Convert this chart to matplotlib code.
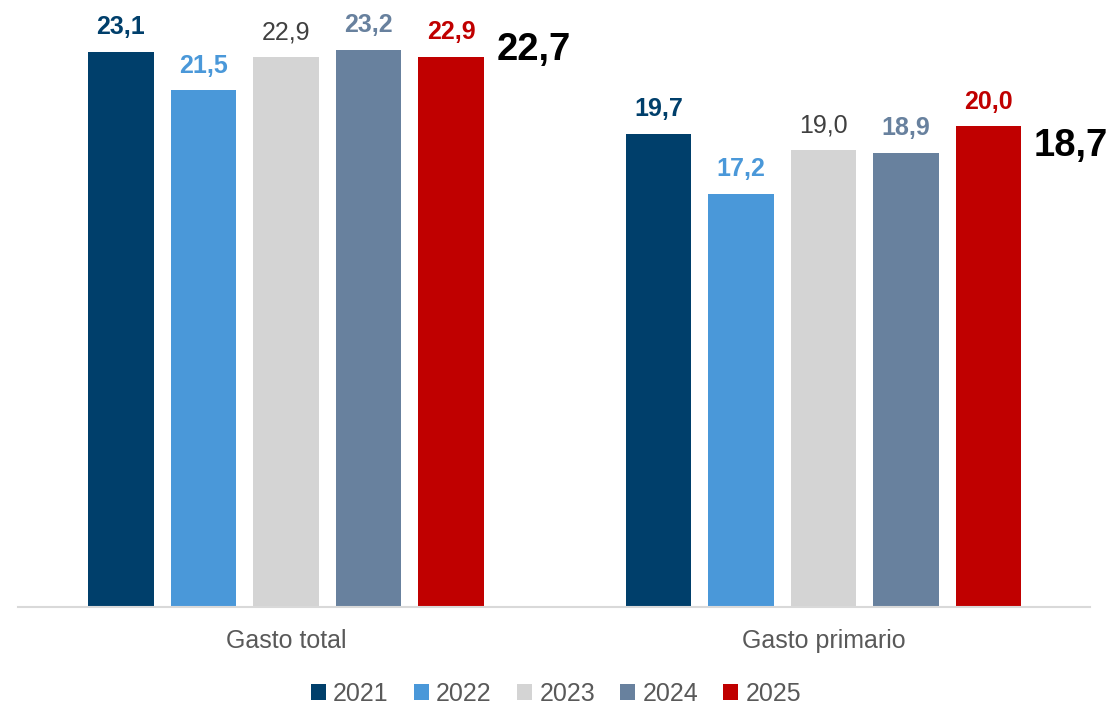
import matplotlib.pyplot as plt
import numpy as np

plt.rcParams['font.family'] = ['Liberation Sans', 'DejaVu Sans']

# datos
categorias = ['Gasto total', 'Gasto primario']
anios = ['2021', '2022', '2023', '2024', '2025']
valores = {
    '2021': [23.1, 19.7],
    '2022': [21.5, 17.2],
    '2023': [22.9, 19.0],
    '2024': [23.2, 18.9],
    '2025': [22.9, 20.0],
}
extra = [22.7, 18.7]  # cifra destacada a la derecha de cada grupo

colores = ['#003f6b', '#4a98d9', '#d4d4d4', '#68819e', '#c00000']
color_etiqueta = ['#003f6b', '#4a98d9', '#404040', '#68819e', '#c00000']
negrita = ['bold', 'bold', 'normal', 'bold', 'bold']

fig = plt.figure(figsize=(11.07, 7.04), dpi=100)
ax = fig.add_axes([18 / 1107, 97 / 704, (1090 - 18) / 1107, (607 - 20) / 704])

grupo = np.array([0, 6.515])
ancho = 0.79

for i, anio in enumerate(anios):
    x = grupo + i
    barras = ax.bar(x, valores[anio], width=ancho, color=colores[i], label=anio)
    for b, v in zip(barras, valores[anio]):
        ax.annotate(f'{v:.1f}'.replace('.', ','), (b.get_x() + b.get_width() / 2, v),
                    xytext=(0, 9), textcoords='offset points', ha='center', va='bottom',
                    fontsize=18, fontweight=negrita[i], color=color_etiqueta[i])

# serie invisible con la cifra grande
barras = ax.bar(grupo + 5, extra, width=ancho, color='none')
for b, v in zip(barras, extra):
    ax.annotate(f'{v:.1f}'.replace('.', ','), (b.get_x() + b.get_width() / 2, v),
                xytext=(0, 1), textcoords='offset points', ha='center', va='baseline',
                fontsize=27.5, fontweight='bold', color='black')

ax.set_xlim(-1.248, 11.745)
ax.set_ylim(0, 24.43)
ax.set_xticks(grupo + 2)
ax.set_xticklabels(categorias, fontsize=18, color='#595959')
ax.tick_params(axis='x', length=0, pad=16)
ax.set_yticks([])
for s in ['top', 'right', 'left']:
    ax.spines[s].set_visible(False)
ax.spines['bottom'].set_color('#d9d9d9')
ax.spines['bottom'].set_linewidth(1.5)

fig.legend(loc='center', bbox_to_anchor=(556 / 1107, 1 - 694 / 704), ncol=5, frameon=False,
           fontsize=18, handlelength=0.6, handleheight=0.6, handletextpad=0.3,
           columnspacing=1.0, labelcolor='#595959')

plt.savefig('out.png', dpi=100)
plt.close()
